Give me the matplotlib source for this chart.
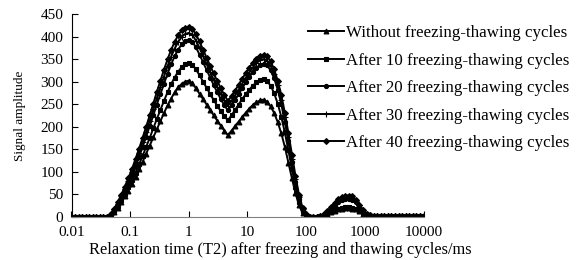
import matplotlib
matplotlib.use("Agg")
import matplotlib.pyplot as plt
from matplotlib.ticker import FixedLocator, FixedFormatter, NullLocator

plt.rcParams['font.family'] = ['Liberation Serif', 'DejaVu Serif']

t2 = [0.01, 0.0115, 0.01322, 0.0152, 0.01748, 0.02009, 0.0231, 0.02656, 0.03054, 0.03511,
      0.04037, 0.04642, 0.05337, 0.06136, 0.07055, 0.08111, 0.09326, 0.1072, 0.1233, 0.1417,
      0.163, 0.1874, 0.2154, 0.2477, 0.2848, 0.3275, 0.3765, 0.4329, 0.4977, 0.5722,
      0.6579, 0.7565, 0.8697, 1.0, 1.15, 1.322, 1.52, 1.748, 2.009, 2.31,
      2.656, 3.054, 3.511, 4.037, 4.642, 5.337, 6.136, 7.055, 8.111, 9.326,
      10.72, 12.33, 14.17, 16.3, 18.74, 21.54, 24.77, 28.48, 32.75, 37.65,
      43.29, 49.77, 57.22, 65.79, 75.65, 86.97, 100.0, 115.0, 132.2, 152.0,
      174.8, 200.9, 231.0, 265.6, 305.4, 351.1, 403.7, 464.2, 533.7, 613.6,
      705.5, 811.1, 932.6, 1072, 1233, 1417, 1630, 1874, 2154, 2477,
      2848, 3275, 3765, 4329, 4977, 5722, 6579, 7565, 8697, 10000]

without = [0, 0, 0, 0, 0, 0, 0, 0, 0, 0,
           0, 3, 10, 20, 32, 45, 58, 72, 88, 105,
           122, 140, 158, 176, 194, 212, 230, 247, 262, 276,
           287, 295, 300, 302, 296, 285, 273, 261, 249, 237,
           225, 213, 202, 191, 181, 191, 201, 211, 221, 231,
           240, 248, 254, 258, 260, 255, 245, 230, 210, 185,
           155, 120, 85, 52, 25, 8, 2, 0, 0, 0,
           1, 3, 6, 10, 13, 16, 18, 19, 19, 18,
           16, 12, 7, 4, 2, 2, 2, 2, 2, 2,
           2, 2, 2, 2, 2, 2, 2, 2, 2, 2]

cyc10 = [0, 0, 0, 0, 0, 0, 0, 0, 0, 0,
         0, 4, 12, 23, 36, 50, 65, 81, 98, 116,
         135, 155, 175, 196, 217, 237, 257, 276, 294, 309,
         322, 332, 338, 341, 337, 327, 314, 300, 286, 272,
         259, 246, 234, 223, 214, 225, 237, 249, 261, 272,
         282, 291, 298, 303, 305, 301, 291, 274, 251, 222,
         187, 147, 106, 66, 33, 12, 3, 0, 0, 0,
         1, 3, 7, 11, 15, 18, 20, 21, 21, 20,
         17, 13, 8, 4, 2, 2, 2, 2, 2, 2,
         2, 2, 2, 2, 2, 2, 2, 2, 2, 2]

cyc20 = [0, 0, 0, 0, 0, 0, 0, 0, 0, 0,
         0, 5, 14, 26, 41, 57, 74, 92, 112, 133,
         155, 178, 201, 225, 249, 272, 295, 317, 338, 356,
         371, 383, 390, 393, 388, 376, 360, 343, 326, 309,
         292, 276, 261, 247, 236, 247, 259, 272, 285, 298,
         310, 321, 331, 337, 340, 336, 325, 307, 282, 250,
         211, 167, 121, 77, 40, 15, 4, 0, 0, 0,
         1, 4, 10, 18, 26, 33, 38, 40, 40, 38,
         32, 23, 13, 6, 3, 2, 2, 2, 2, 2,
         2, 2, 2, 2, 2, 2, 2, 2, 2, 2]

cyc30 = [0, 0, 0, 0, 0, 0, 0, 0, 0, 0,
         0, 6, 16, 29, 45, 62, 80, 99, 120, 142,
         165, 189, 213, 238, 263, 287, 311, 334, 355, 373,
         388, 399, 406, 408, 403, 391, 375, 357, 339, 321,
         304, 288, 272, 258, 246, 257, 269, 282, 295, 308,
         320, 331, 341, 347, 350, 346, 335, 317, 292, 260,
         221, 176, 129, 83, 44, 17, 5, 0, 0, 0,
         1, 4, 11, 20, 29, 36, 41, 44, 44, 42,
         35, 25, 14, 7, 3, 2, 2, 2, 2, 2,
         2, 2, 2, 2, 2, 2, 2, 2, 2, 2]

cyc40 = [0, 0, 0, 0, 0, 0, 0, 0, 0, 0,
         0, 7, 18, 32, 49, 67, 86, 106, 128, 151,
         175, 200, 225, 251, 277, 302, 326, 349, 370, 388,
         403, 414, 420, 422, 417, 405, 389, 371, 353, 335,
         318, 301, 285, 270, 257, 268, 280, 293, 306, 319,
         331, 342, 351, 357, 360, 356, 345, 327, 302, 270,
         231, 186, 138, 90, 48, 19, 6, 0, 0, 0,
         1, 5, 12, 22, 31, 39, 44, 47, 47, 45,
         38, 27, 15, 7, 3, 2, 2, 2, 2, 2,
         2, 2, 2, 2, 2, 2, 2, 2, 2, 2]

labels = ["Without freezing-thawing cycles",
          "After 10 freezing-thawing cycles",
          "After 20 freezing-thawing cycles",
          "After 30 freezing-thawing cycles",
          "After 40 freezing-thawing cycles"]
series = [without, cyc10, cyc20, cyc30, cyc40]
markers = ['^', 's', 'o', '+', 'D']
msizes = [3.5, 3.0, 3.0, 4.0, 3.0]

xticks = [0.01, 0.1, 1, 10, 100, 1000, 10000]
xticklabels = ["0.01", "0.1", "1", "10", "100", "1000", "10000"]
yticks = [0, 50, 100, 150, 200, 250, 300, 350, 400, 450]

fig = plt.figure(figsize=(5.81, 2.60), dpi=100)
ax = fig.add_axes([71.5 / 581, 1 - 216.7 / 260, (423.5 - 71.5) / 581, (216.7 - 14) / 260])

for ys, lab, mk, ms in zip(series, labels, markers, msizes):
    ax.plot(t2, ys, color='black', lw=1.4, marker=mk, ms=ms, mew=0.8,
            mfc='black', mec='black', label=lab)

ax.set_xscale('log')
ax.set_xlim(0.01, 10000)
ax.set_ylim(0, 450)
ax.xaxis.set_major_locator(FixedLocator(xticks))
ax.xaxis.set_major_formatter(FixedFormatter(xticklabels))
ax.xaxis.set_minor_locator(NullLocator())
ax.set_yticks(yticks)

ax.spines['top'].set_visible(False)
ax.spines['right'].set_visible(False)
ax.spines['bottom'].set_color('#808080')
ax.spines['left'].set_color('black')
ax.tick_params(axis='both', direction='in', length=4, width=0.8, labelsize=11, colors='black')
ax.tick_params(axis='x', pad=7)
ax.tick_params(axis='y', pad=6)

fig.text(280 / 581, 1 - 250 / 260, "Relaxation time (T2) after freezing and thawing cycles/ms",
         fontsize=11.8, ha='center', va='center')
fig.text(20 / 581, 1 - 116 / 260, "Signal amplitude", fontsize=9.5,
         rotation=90, ha='center', va='center')

leg = ax.legend(loc='upper left', bbox_to_anchor=(308 / 581, 1 - 25 / 260),
                bbox_transform=fig.transFigure, frameon=False, fontsize=12.2,
                handlelength=2.1, handletextpad=0.15, labelspacing=0.68,
                borderpad=0, borderaxespad=0)

fig.savefig("out.png", dpi=100)
